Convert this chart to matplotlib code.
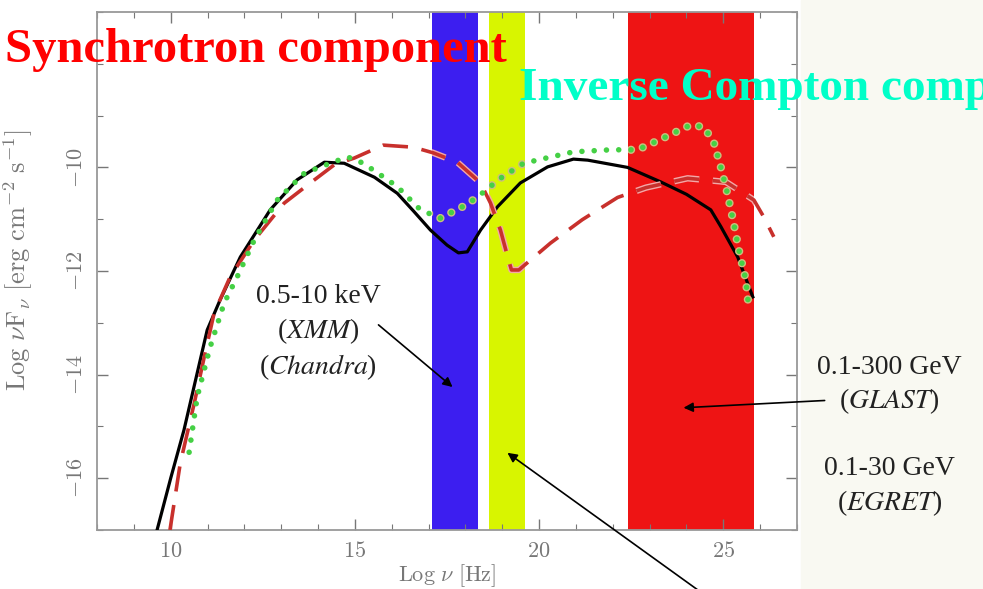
import matplotlib
matplotlib.use("Agg")
import matplotlib.pyplot as plt
from matplotlib.patches import Rectangle
import matplotlib.patheffects as pe

plt.rcParams['mathtext.fontset'] = 'cm'

# modelos SED (log nu [Hz], log nuFnu [erg cm^-2 s^-1])
black_x = [9.63, 10.0, 10.36, 10.99, 11.34, 11.89, 12.70, 13.43, 14.17, 14.71, 15.53, 16.15, 16.6,
           17.05, 17.5, 17.81, 18.05, 18.41, 18.87, 19.49, 20.23, 20.93, 21.32, 22.40, 23.3, 24.0,
           24.66, 24.93, 25.39, 25.80]
black_y = [-17.0, -16.0, -15.07, -13.14, -12.56, -11.73, -10.82, -10.24, -9.90, -9.92, -10.19, -10.50,
           -10.85, -11.21, -11.5, -11.65, -11.63, -11.21, -10.76, -10.30, -9.99, -9.84, -9.86, -10.00,
           -10.28, -10.52, -10.82, -11.14, -11.73, -12.50]

green_x = [10.5, 10.72, 11.07, 11.45, 11.80, 12.27, 12.89, 13.63, 14.33, 14.79, 15.07, 15.50, 16.15,
           16.78, 17.32, 18.00, 18.33, 18.95, 19.58, 20.31, 20.93, 21.94, 22.67, 23.38, 24.11, 24.47,
           24.74, 24.93, 25.12, 25.28, 25.42, 25.61, 25.69]
green_y = [-15.5, -14.43, -13.47, -12.62, -12.12, -11.40, -10.63, -10.11, -9.92, -9.80, -9.86, -10.05,
           -10.37, -10.82, -10.98, -10.73, -10.57, -10.21, -9.92, -9.80, -9.70, -9.66, -9.66, -9.43,
           -9.18, -9.22, -9.51, -9.99, -10.53, -11.07, -11.59, -12.17, -12.71]

red_x = [9.98, 10.26, 10.64, 10.91, 11.18, 11.61, 12.27, 13.08, 13.79, 14.44, 14.98, 15.77, 16.59,
         17.13, 17.78, 18.41, 18.68, 18.95, 19.17, 19.25, 19.45, 20.31, 21.17, 22.13, 22.90, 24.03,
         25.07, 25.83, 26.10, 26.37]
red_y = [-17.0, -15.71, -14.55, -13.66, -12.81, -12.12, -11.40, -10.69, -10.30, -9.95, -9.82, -9.57,
         -9.61, -9.72, -9.90, -10.30, -10.69, -11.21, -11.79, -11.98, -11.98, -11.46, -11.01, -10.58,
         -10.39, -10.21, -10.28, -10.63, -10.96, -11.34]

# faixas dos instrumentos (log nu)
bandas = [(17.08, 18.33, '#3c1ef0'),   # XMM / Chandra
          (18.65, 19.63, '#d8f500'),
          (22.40, 25.83, '#ee1414')]   # GLAST / EGRET

cinza = '#777777'

fig = plt.figure(figsize=(9.83, 5.89), dpi=100)
# fundo levemente texturizado à direita
fig.patches.append(Rectangle((0.815, 0), 0.185, 1, transform=fig.transFigure,
                             color='#f9f9f2', zorder=-1))

ax = fig.add_axes([0.0987, 0.1002, 0.7121, 0.8794])
ax.set_xlim(8, 27)
ax.set_ylim(-17, -7)

for x0, x1, cor in bandas:
    ax.axvspan(x0, x1, color=cor, lw=0, zorder=1)

estilos = [
    (black_x, black_y, dict(color='black', lw=2.3, ls='-'), 3, None),
    (red_x, red_y, dict(color='#c8302c', lw=2.6, ls=(0, (7, 3.8)), dash_capstyle='butt'), 4, '#f4a8a8'),
    (green_x, green_y, dict(color='#45d045', lw=4.0, ls=(0, (0.01, 2.2)), dash_capstyle='round'), 5, '#cdbd80'),
]
for xs, ys, kw, z, halo in estilos:
    ax.plot(xs, ys, zorder=z, **kw)

# dentro das faixas as curvas ganham um contorno claro
for x0, x1, cor in bandas:
    for xs, ys, kw, z, halo in estilos[1:]:
        clip = Rectangle((x0, -17), x1 - x0, 10, transform=ax.transData)
        ln, = ax.plot(xs, ys, zorder=z + 2, **kw)
        ln.set_path_effects([pe.Stroke(linewidth=kw['lw'] + 2.0, foreground=halo), pe.Normal()])
        ln.set_clip_path(clip)

ax.set_xticks([10, 15, 20, 25])
ax.set_xticks(range(8, 28), minor=True)
ax.set_yticks([-16, -14, -12, -10])
ax.set_yticks(range(-17, -6), minor=True)
ax.set_xticklabels([r'$10$', r'$15$', r'$20$', r'$25$'])
ax.set_yticklabels([r'$-16$', r'$-14$', r'$-12$', r'$-10$'], rotation=90, va='center')
ax.tick_params(which='both', direction='in', top=True, right=True, colors=cinza,
               labelsize=16, labelcolor=cinza)
ax.tick_params(which='major', length=8, width=1, pad=8)
ax.tick_params(which='minor', length=4, width=0.8)
for s in ax.spines.values():
    s.set_color('#999999')
    s.set_linewidth(1.3)

ax.set_xlabel(r'$\mathrm{Log}\ \nu\ [\mathrm{Hz}]$', fontsize=16, color=cinza, labelpad=1)
ax.set_ylabel(r'$\mathrm{Log}\ \nu\mathrm{F}_\nu\ [\mathrm{erg\ cm}^{-2}\ \mathrm{s}^{-1}]$',
              fontsize=19, color=cinza)
ax.yaxis.set_label_coords(-0.089, 0.521)

# títulos das componentes
fig.text(0.005, 0.895, 'Synchrotron component', color='#ff0000', fontsize=35,
         fontweight='bold', family='Liberation Serif', va='baseline')
fig.text(0.528, 0.83, 'Inverse Compton component', color='#00ffc8', fontsize=34,
         fontweight='bold', family='Liberation Serif', va='baseline')

# anotações dos instrumentos
txt = dict(family='Liberation Serif', fontsize=20, color='#222222', ha='center',
           math_fontfamily='stix', linespacing=1.3)
seta = dict(arrowstyle='-|>', color='black', lw=1.2, mutation_scale=14, shrinkA=0, shrinkB=0)

ax.annotate('', xy=(17.65, -14.24), xytext=(15.64, -13.04), arrowprops=seta,
            annotation_clip=False, zorder=8)
ax.text(14.0, -13.2, '0.5-10 keV\n($\\mathit{XMM}$)\n($\\mathit{Chandra}$)', va='center',
        zorder=8, **txt)

ax.annotate('', xy=(23.92, -14.64), xytext=(27.75, -14.5), arrowprops=seta,
            annotation_clip=False, zorder=8)
fig.text(0.905, 0.345, '0.1-300 GeV\n($\\mathit{GLAST}$)', va='center', **txt)
fig.text(0.905, 0.173, '0.1-30 GeV\n($\\mathit{EGRET}$)', va='center', **txt)

ax.annotate('', xy=(19.14, -15.51), xytext=(24.39, -18.2), arrowprops=seta,
            annotation_clip=False, zorder=8)

fig.savefig('out.png', dpi=100)
